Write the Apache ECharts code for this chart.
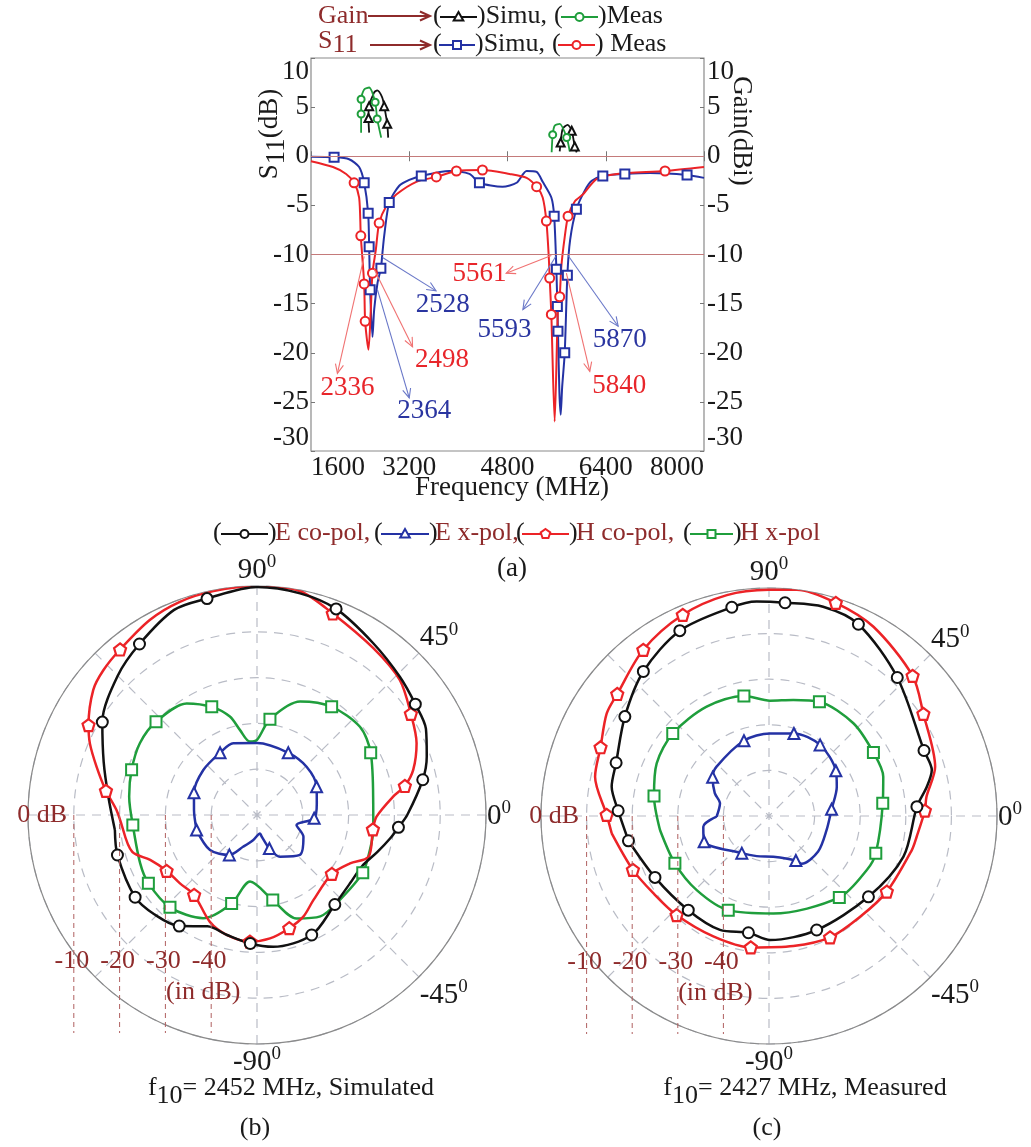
<!DOCTYPE html>
<html><head><meta charset="utf-8">
<script src="https://cdn.jsdelivr.net/npm/echarts@6/dist/echarts.min.js"></script>
<style>html,body{margin:0;padding:0;background:#fff}#c{width:1031px;height:1147px}</style>
</head><body><div id="c"></div>
<script>
// ---------------- DATA ----------------
// S11 (MHz, dB, marker flag)
const s11Sim = [[1600,-0.05,0],[1976,-0.1,1],[2220,-0.3,0],[2384,-1.1,0],[2466,-2.7,1],[2531,-5.8,1],[2547,-9.2,1],[2563,-13.6,1],[2601,-18.4,0],[2629,-15.6,0],[2683,-12.9,0],[2738,-11.4,1],[2764,-9.8,0],[2792,-8.1,0],[2874,-4.7,1],[3037,-3.0,0],[3200,-2.4,0],[3396,-2.0,1],[3853,-1.5,0],[4180,-1.8,0],[4343,-2.7,1],[4719,-3.1,0],[4948,-2.7,0],[5111,-1.5,0],[5274,-1.6,0],[5373,-2.6,0],[5514,-4.2,0],[5560,-6.1,1],[5596,-11.5,1],[5612,-15.3,1],[5622,-17.8,1],[5645,-24,0],[5666,-26.3,0],[5690,-23.5,0],[5732,-20,1],[5775,-12.1,1],[5820,-8.5,0],[5922,-5.4,1],[6058,-3.5,0],[6172,-2.5,0],[6352,-2.0,1],[6711,-1.8,1],[7120,-1.7,0],[7724,-1.9,1],[8000,-2.2,0]];
const s11Meas = [[1600,-0.5,0],[1959,-1.1,0],[2172,-1.8,0],[2302,-2.7,1],[2384,-4.2,0],[2411,-8.1,1],[2466,-13.0,1],[2482,-16.8,1],[2536,-19.7,0],[2574,-15.6,0],[2601,-11.9,1],[2656,-9.5,0],[2710,-6.8,1],[2825,-5.1,0],[2988,-3.9,0],[3315,-2.6,0],[3641,-2.1,1],[3968,-1.5,1],[4392,-1.4,1],[4833,-1.8,0],[5111,-2.2,0],[5274,-3.1,1],[5373,-4.2,0],[5433,-6.6,1],[5470,-10.0,0],[5487,-12.4,1],[5514,-16.1,1],[5568,-27.0,0],[5622,-15.3,0],[5650,-14.3,1],[5677,-11.2,0],[5730,-8.3,0],[5786,-6.1,1],[5895,-4.6,0],[6026,-3.9,0],[6254,-2.3,0],[6580,-1.8,0],[7365,-1.5,1],[8000,-1.1,0]];
// Gain (MHz, dBi, marker flag), two bands
const gainSimA = [[2547,2.4,0],[2536,3.9,1],[2547,5.1,1],[2629,6.5,0],[2678,6.7,0],[2759,6.0,0],[2792,5.1,1],[2841,3.3,1],[2857,1.9,0]];
const gainMeasA = [[2416,2.4,0],[2416,4.3,1],[2416,5.8,1],[2466,6.8,0],[2547,7.0,0],[2645,5.5,1],[2678,3.8,1],[2743,1.9,0]];
const gainSimB = [[5650,0.5,0],[5666,1.4,1],[5699,2.8,0],[5780,3.2,0],[5846,2.6,1],[5895,1.0,1],[5927,0.4,0]];
const gainMeasB = [[5519,0.4,0],[5536,2.2,1],[5568,3.1,0],[5650,3.3,0],[5764,1.9,1],[5813,0.5,0]];
// -10 dB band annotations
const annotLabels = ['2336','2498','2528','2364','5561','5593','5870','5840'];
const annotKind = ['meas','meas','sim','sim','meas','sim','sim','meas'];
const annotFrom = [[2466,-10.2],[2629,-11.5],[2765,-10.3],[2683,-13.6],[5514,-10.1],[5585,-10.2],[5786,-10.1],[5759,-11.9]];
const annotTo = [[2030,-22.1],[3254,-19.4],[3636,-13.7],[3200,-24.6],[4779,-11.9],[5051,-15.6],[6602,-17.3],[6140,-21.9]];
const annotAt = [[2193,-23.6],[3734,-20.7],[3744,-15.1],[3445,-25.9],[4343,-12.0],[4752,-17.7],[6630,-18.7],[6618,-23.4]];

// Radiation patterns (angle deg, dB, marker flag)
const simECo = [[-174,-18.8,0],[-164,-18.3,1],[-146,-17.9,1],[-136,-18.8,0],[-125,-20.4,1],[-114,-23.4,0],[-104,-23.0,0],[-93,-21.9,1],[-83,-21.0,0],[-65.5,-21.2,1],[-49,-24.1,1],[-36,-24.8,0],[-26,-24.5,0],[-17,-22.5,0],[-10,-20.5,0],[-5,-19.0,1],[0,-17.2,0],[12,-13.0,1],[19,-10.8,0],[27,-8.6,0],[35,-7.8,1],[44,-6.6,0],[56,-4.7,0],[69,-1.8,1],[79,-0.7,0],[90,-0.2,0],[103,-1.5,1],[112,-1.7,0],[124.5,-4.7,1],[135,-7.0,0],[149,-10.6,1],[161,-14.6,0],[173,-17.3,0]];
const simEX = [[-166,-36.4,1],[-143.3,-37.2,0],[-124.7,-39.4,1],[-113.3,-42.5,0],[-98.4,-44.5,0],[-80.7,-45.9,0],[-77.8,-45.2,0],[-69.7,-42.2,1],[-61.1,-39.6,0],[-42.9,-37.2,0],[-25.1,-38.8,0],[-14.1,-41.1,0],[-3.3,-37.5,1],[11,-36.7,0],[25.4,-35.6,1],[44.2,-34.9,0],[63.3,-34.8,1],[90,-34.3,0],[108.3,-33.5,0],[120.7,-34.2,1],[140,-34.7,0],[160.5,-35.4,1],[175.5,-36.2,0]];
const simHCo = [[-173.6,-20.6,0],[-163.5,-21.6,0],[-157.2,-24.7,0],[-148.3,-26.8,1],[-138.4,-27.5,0],[-128.2,-27.8,1],[-113.8,-24.5,0],[-104.2,-23.0,0],[-93.2,-22.3,1],[-84,-22.9,0],[-74.1,-24.3,1],[-65.5,-25.6,0],[-56.5,-27.7,0],[-38.2,-29.2,1],[-27.5,-27.1,0],[-20.5,-24.0,0],[-7.1,-24.5,1],[-0.8,-23.9,0],[7.7,-20.0,0],[11.1,-17.1,1],[16.1,-14.5,0],[24.2,-11.8,0],[33.3,-9.8,1],[43.4,-7.1,0],[55.1,-5.6,0],[69.4,-3.0,1],[79.2,-0.2,0],[90,0,0],[101,-0.2,0],[109.9,-0.5,0],[118.8,-1.4,0],[129.6,-3.1,1],[136.7,-3.9,0],[142.6,-5.0,0],[151.9,-8.3,1],[156.8,-10.3,0],[163.2,-13.4,0],[170.9,-16.6,1],[178,-19.3,0]];
const simHX = [[-175.4,-22.8,1],[-157.6,-22.4,0],[-147.9,-22.0,1],[-133.3,-22.3,1],[-117.5,-24.6,0],[-106,-29.9,1],[-96,-35.4,0],[-79.5,-31.1,1],[-69,-25.8,0],[-58,-23.9,0],[-46,-24.1,0],[-28.6,-23.7,1],[-17.2,-24.2,0],[-7.3,-24.4,0],[5.7,-24.5,0],[28.7,-21.7,1],[40.6,-20.4,0],[55.4,-21.3,1],[69.2,-23.5,0],[82.3,-28.9,1],[90,-33.6,0],[95.5,-33.9,0],[101.3,-31.1,0],[105.4,-27.7,0],[112.7,-24.4,1],[122.2,-21.2,0],[137.3,-20.0,1],[148.5,-20.0,0],[160.2,-20.9,1],[171.8,-21.8,0]];
const measECo = [[-170,-18.7,1],[-151.7,-21.6,1],[-130.6,-22.8,1],[-113.3,-22.8,0],[-100,-24.0,1],[-89.5,-22.8,0],[-67.3,-22.9,1],[-39.1,-21.9,1],[-16.8,-19.2,0],[3.6,-17.5,1],[10.5,-14.8,0],[15.8,-12.9,0],[22.9,-13.1,1],[47.2,-8.6,1],[65,-3.6,1],[75.5,-2.6,0],[85.7,-3.1,1],[93.3,-2.9,0],[100.1,-3.5,1],[115.7,-4.9,1],[131,-8.0,1],[145.4,-11.6,1],[160.8,-14.5,1],[169.4,-14.9,0],[178,-16.9,1]];
const measEX = [[-179.2,-38.5,0],[-170.7,-35.4,0],[-158.4,-34.7,1],[-126.2,-39.9,1],[-107,-40.8,0],[-84,-41.0,0],[-58.9,-38.6,1],[-55.7,-37.3,0],[-35.9,-36.7,0],[-13.6,-37.0,0],[6.1,-36.2,1],[23.4,-33.8,0],[34.1,-32.3,1],[54.3,-30.8,1],[73.2,-31.1,1],[89.3,-31.9,0],[108.4,-32.6,1],[136.7,-34.2,0],[145.5,-35.0,1],[157.2,-37.1,0],[165.5,-38.9,0]];
const measHCo = [[-173.7,-15.3,0],[-158.4,-17.9,1],[-146.3,-19.5,0],[-133,-20.3,1],[-114.8,-20.9,0],[-97.9,-20.9,1],[-79.4,-21.0,0],[-63.3,-20.2,1],[-47.9,-20.2,0],[-32.7,-19.3,1],[-13.4,-17.8,0],[-8,-17.3,0],[2,-15.8,1],[7,-15.2,0],[16.5,-12.0,0],[33.5,-9.4,1],[44.3,-6.0,1],[61.1,-2.6,0],[72.6,-1.0,1],[83,0,0],[90,-0.4,0],[100.8,-0.7,0],[113.2,-2.0,1],[127.1,-4.3,1],[141.2,-7.3,1],[147.7,-7.9,0],[157.8,-10.1,1],[167.3,-10.9,0],[179.6,-14.4,1]];
const measHX = [[-172.7,-25.9,0],[-153.3,-26.9,1],[-134.3,-27.3,0],[-113.4,-27.5,1],[-87.5,-28.6,0],[-49.2,-26.4,1],[-28.9,-25.5,0],[-19.2,-25.2,1],[6.4,-24.9,1],[19,-23.5,0],[31.3,-23.2,1],[47.7,-22.5,0],[66.2,-22.6,1],[78.2,-24.0,0],[89.5,-24.7,0],[101.8,-23.1,1],[119.7,-22.4,0],[139.4,-22.2,1],[154.9,-22.8,0],[170.1,-24.4,1]];

const angleLabels = {'90':'90','45':'45','0':'0','-45':'-45','-90':'-90'};
const dbRefLevels = [-10,-20,-30,-40];
const captionB = ['f','10','= 2452 MHz, Simulated'];
const captionC = ['f','10','= 2427 MHz, Measured'];

// ---------------- STYLE ----------------
const FONT = '"Liberation Serif","Times New Roman",serif';
const DARKRED = '#8e2b2b';
const COL = {black:'#111111', blue:'#2432a4', red:'#ec2327', green:'#1f9e3c'};
const PENTA = 'path://M0,-10L9.51,-3.09L5.88,8.09L-5.88,8.09L-9.51,-3.09Z';

function lineItems(rows, sym){ return rows.map(r => ({value:[r[0], r[1]], symbol: r[2] ? sym : 'none'})); }
function polarItems(rows, sym){
  const closed = rows.concat([rows[0]]);
  return closed.map((r,i) => ({value:[r[1], r[0]], symbol: (r[2] && i < rows.length) ? sym : 'none'}));
}
function cartSeries(rows, color, sym, yIdx, size, width){
  return {type:'line', xAxisIndex:0, yAxisIndex:yIdx, data: lineItems(rows, sym), smooth:0.25,
    showSymbol:true, showAllSymbol:true, symbolSize:size, z:3,
    lineStyle:{color:color, width:width}, itemStyle:{color:color, borderColor:color, borderWidth:1.8}};
}
function polarSeries(pi, rows, color, sym){
  const hollowPath = sym.indexOf('path://') === 0;
  return {type:'line', coordinateSystem:'polar', polarIndex:pi, data: polarItems(rows, sym), smooth:0.3,
    showSymbol:true, showAllSymbol:true, symbolSize: hollowPath ? 12 : 11, z:3,
    lineStyle:{color:color, width:2.5},
    itemStyle: hollowPath ? {color:'#fff', borderColor:color, borderWidth:2.2} : {color:color, borderColor:color, borderWidth:2.2}};
}
function angleAxisCfg(pi){
  return {polarIndex:pi, type:'value', min:-180, max:180, interval:45, startAngle:180, clockwise:false,
    axisLine:{show:true, lineStyle:{color:'#8a8a8a', width:1.2}},
    axisTick:{show:false},
    splitLine:{show:true, lineStyle:{color:'#b9bcc6', type:[9,7], width:1.2}},
    axisLabel:{margin:1, formatter: v => angleLabels[String(v)] ? '{a|' + angleLabels[String(v)] + '}{s|0}' : '',
      rich:{a:{fontFamily:FONT, fontSize:29, color:'#1a1a1a', lineHeight:32, verticalAlign:'bottom'},
            s:{fontFamily:FONT, fontSize:19, color:'#1a1a1a', lineHeight:32, verticalAlign:'top'}}}};
}
function radiusAxisCfg(pi){
  return {polarIndex:pi, type:'value', min:-50, max:0, interval:10,
    axisLine:{show:false}, axisTick:{show:false}, axisLabel:{show:false},
    splitLine:{show:true, lineStyle:{color:'#b9bcc6', type:[9,7], width:1.2}}};
}
const axisLbl = {fontFamily:FONT, fontSize:27, color:'#1a1a1a', formatter: v => String(v)};

const series = [
  Object.assign(cartSeries(s11Sim, COL.blue, 'emptyRect', 0, 9, 2), {markLine:{silent:true, symbol:'none', label:{show:false},
      lineStyle:{color:'#c47a7a', width:1, type:'solid'}, data:[{yAxis:0},{yAxis:-10}]}}),
  cartSeries(s11Meas, COL.red, 'emptyCircle', 0, 9, 2),
  cartSeries(gainSimA, COL.black, 'emptyTriangle', 1, 8, 1.8),
  cartSeries(gainSimB, COL.black, 'emptyTriangle', 1, 8, 1.8),
  cartSeries(gainMeasA, COL.green, 'emptyCircle', 1, 7, 1.8),
  cartSeries(gainMeasB, COL.green, 'emptyCircle', 1, 7, 1.8),
  polarSeries(0, simHX, COL.green, 'emptyRect'),
  polarSeries(0, simEX, COL.blue, 'emptyTriangle'),
  polarSeries(0, simHCo, COL.red, PENTA),
  polarSeries(0, simECo, COL.black, 'emptyCircle'),
  polarSeries(1, measHX, COL.green, 'emptyRect'),
  polarSeries(1, measEX, COL.blue, 'emptyTriangle'),
  polarSeries(1, measHCo, COL.red, PENTA),
  polarSeries(1, measECo, COL.black, 'emptyCircle')
];
const polarCenters = [[257,815,229],[769,816,228]];

const option = {
  animation:false, backgroundColor:'#fff', textStyle:{fontFamily:FONT},
  grid:{left:311, top:58, width:393, height:393, show:true, borderColor:'#8a8a8a', borderWidth:1.2, backgroundColor:'rgba(0,0,0,0)'},
  xAxis:[
    {type:'value', min:1600, max:8000, interval:1600, position:'bottom', axisLine:{show:false}, splitLine:{show:false},
     axisTick:{show:true, inside:true, length:5, lineStyle:{color:'#777'}},
     axisLabel:Object.assign({margin:3, alignMinLabel:'left', alignMaxLabel:'right'}, axisLbl)},
    {type:'value', min:1600, max:8000, interval:1600, position:'top', axisLine:{show:false}, splitLine:{show:false},
     axisTick:{show:true, inside:true, length:5, lineStyle:{color:'#777'}}, axisLabel:{show:false}}
  ],
  yAxis:[
    {type:'value', min:-30, max:10, interval:5, position:'left', axisLine:{show:false}, splitLine:{show:false},
     axisTick:{show:true, inside:true, length:4, lineStyle:{color:'#777'}},
     axisLabel:Object.assign({margin:2, verticalAlignMinLabel:'bottom', verticalAlignMaxLabel:'top'}, axisLbl)},
    {type:'value', min:-30, max:10, interval:5, position:'right', axisLine:{show:false}, splitLine:{show:false},
     axisTick:{show:true, inside:true, length:4, lineStyle:{color:'#777'}},
     axisLabel:Object.assign({margin:3, verticalAlignMinLabel:'bottom', verticalAlignMaxLabel:'top'}, axisLbl)}
  ],
  polar: polarCenters.map(c => ({center:[c[0], c[1]], radius:c[2]})),
  angleAxis:[angleAxisCfg(0), angleAxisCfg(1)],
  radiusAxis:[radiusAxisCfg(0), radiusAxisCfg(1)],
  series: series
};

const chart = echarts.init(document.getElementById('c'), null, {renderer:'canvas'});
chart.setOption(option);

// ---------------- GRAPHIC (texts, legends, annotations) ----------------
const G = [];
function T(x, y, text, o){
  o = o || {};
  G.push({type:'text', x:x, y:y, z:100, rotation:o.rot || 0, style:{text:text, fontFamily:FONT, fontSize:o.size || 26,
    fill:o.color || '#1a1a1a', align:o.align || 'left', verticalAlign:o.va || 'middle', rich:o.rich}});
}
function L(x1,y1,x2,y2,color,w,dash){ G.push({type:'line', z:99, shape:{x1,y1,x2,y2}, style:{stroke:color, lineWidth:w, lineDash:dash || null}}); }
function arrowHead(x1,y1,x2,y2,color,w,len){
  const a = Math.atan2(y2-y1, x2-x1), s = 0.42;
  G.push({type:'polyline', z:99, shape:{points:[[x2-len*Math.cos(a-s), y2-len*Math.sin(a-s)],[x2,y2],[x2-len*Math.cos(a+s), y2-len*Math.sin(a+s)]]},
    style:{stroke:color, lineWidth:w, fill:null}});
}
function marker(kind, cx, cy, color){
  const st = {fill:'#fff', stroke:color, lineWidth:2};
  if (kind === 'circle') G.push({type:'circle', z:101, shape:{cx, cy, r:4}, style:st});
  else if (kind === 'rect') G.push({type:'rect', z:101, shape:{x:cx-4, y:cy-4, width:8, height:8}, style:st});
  else if (kind === 'tri') G.push({type:'polygon', z:101, shape:{points:[[cx,cy-5],[cx+4.8,cy+3.5],[cx-4.8,cy+3.5]]}, style:st});
  else { const p=[]; for (let i=0;i<5;i++){ const a=-Math.PI/2+i*2*Math.PI/5; p.push([cx+5*Math.cos(a), cy+5*Math.sin(a)]); }
    G.push({type:'polygon', z:101, shape:{points:p}, style:st}); }
}
function icon(x1, x2, y, color, kind){ L(x1, y, x2, y, color, 2); marker(kind, (x1+x2)/2, y, color); }

// top legend row 1
T(318, 16, 'Gain', {color:DARKRED});
L(368, 16, 428, 16, DARKRED, 2); arrowHead(368,16,430,16,DARKRED,2,11);
T(433, 16, '('); icon(440, 477, 17, COL.black, 'tri'); T(477, 16, ')Simu,');
T(554, 16, '('); icon(561, 598, 17, COL.green, 'circle'); T(598, 16, ')Meas');
// top legend row 2
T(318, 43, '{a|S}{b|11}', {color:DARKRED, rich:{a:{fontFamily:FONT, fontSize:26, fill:DARKRED, color:DARKRED, lineHeight:30, verticalAlign:'top'},
  b:{fontFamily:FONT, fontSize:26, color:DARKRED, lineHeight:30, verticalAlign:'bottom', padding:[12,0,0,0]}}});
L(370, 45, 428, 45, DARKRED, 2); arrowHead(370,45,430,45,DARKRED,2,11);
T(433, 44, '('); icon(439, 475, 45, COL.blue, 'rect'); T(475, 44, ')Simu,');
T(552, 44, '('); icon(558, 595, 45, COL.red, 'circle'); T(595, 44, ') Meas');

// axis titles
T(273, 134, '{a|S}{b|11}{a|(dB)}', {rot:Math.PI/2, align:'center', rich:{a:{fontFamily:FONT, fontSize:27, color:'#1a1a1a', lineHeight:34, verticalAlign:'top'},
  b:{fontFamily:FONT, fontSize:27, color:'#1a1a1a', lineHeight:34, verticalAlign:'bottom'}}});
T(741, 131, 'Gain(dBi)', {rot:-Math.PI/2, align:'center', size:27});
T(512, 488, 'Frequency (MHz)', {align:'center', size:27});
T(512, 569, '(a)', {align:'center', size:27});

// annotations
annotLabels.forEach((lab, i) => {
  const p1 = chart.convertToPixel({xAxisIndex:0, yAxisIndex:0}, annotFrom[i]);
  const p2 = chart.convertToPixel({xAxisIndex:0, yAxisIndex:0}, annotTo[i]);
  const pt = chart.convertToPixel({xAxisIndex:0, yAxisIndex:0}, annotAt[i]);
  const lc = annotKind[i] === 'meas' ? '#f07272' : '#6a78c8';
  const tc = annotKind[i] === 'meas' ? '#e8262b' : '#2a35a0';
  L(p1[0], p1[1], p2[0], p2[1], lc, 1.1); arrowHead(p1[0], p1[1], p2[0], p2[1], lc, 1.1, 10);
  T(pt[0], pt[1], lab, {align:'center', color:tc, size:27});
});

// bottom legend
const LY = 533;
T(213, LY, '('); icon(221, 268, LY+1, COL.black, 'circle'); T(268, LY, ')'); T(275, LY, 'E co-pol,', {color:DARKRED});
T(374, LY, '('); icon(381, 429, LY+1, COL.blue, 'tri'); T(429, LY, ')'); T(435, LY, 'E x-pol,', {color:DARKRED});
T(516, LY, '('); icon(522, 569, LY+1, COL.red, 'penta'); T(569, LY, ')'); T(576, LY, 'H co-pol,', {color:DARKRED});
T(683, LY, '('); icon(690, 733, LY+1, COL.green, 'rect'); T(733, LY, ')'); T(740, LY, 'H x-pol', {color:DARKRED});

// polar decorations
function ppix(k, r, a){
  try { const p = chart.convertToPixel({seriesIndex: 6 + 4*k}, [r, a]); if (p && isFinite(p[0]) && isFinite(p[1])) return p; } catch(e) {}
  const c = polarCenters[k], rr = c[2]*(r+50)/50, t = a*Math.PI/180;
  return [c[0] + rr*Math.cos(t), c[1] - rr*Math.sin(t)];
}
[0,1].forEach(k => {
  const c = polarCenters[k];
  T(c[0]-190, c[1], '0 dB', {align:'right', color:DARKRED});
  dbRefLevels.forEach(v => {
    const p = ppix(k, v, 180);
    L(p[0], c[1], p[0], c[1]+218, '#b06060', 1, [5,4]);
    T(p[0]-2, c[1]+146, String(v), {align:'center', color:DARKRED});
  });
  const p40 = ppix(k, dbRefLevels[dbRefLevels.length-1], 180);
  T(p40[0]-8, c[1]+177, '(in dB)', {align:'center', color:DARKRED});
});
const capRich = {f:{fontFamily:FONT, fontSize:26, color:'#1a1a1a', lineHeight:34, verticalAlign:'top'},
  s:{fontFamily:FONT, fontSize:26, color:'#1a1a1a', lineHeight:34, verticalAlign:'bottom', padding:[10,0,0,0]}};
T(291, 1092, '{f|' + captionB[0] + '}{s|' + captionB[1] + '}{f|' + captionB[2] + '}', {align:'center', rich:capRich});
T(805, 1092, '{f|' + captionC[0] + '}{s|' + captionC[1] + '}{f|' + captionC[2] + '}', {align:'center', rich:capRich});
T(255, 1128, '(b)', {align:'center'});
T(767, 1128, '(c)', {align:'center'});

chart.setOption({graphic:{elements:G}});
</script>
</body></html>
